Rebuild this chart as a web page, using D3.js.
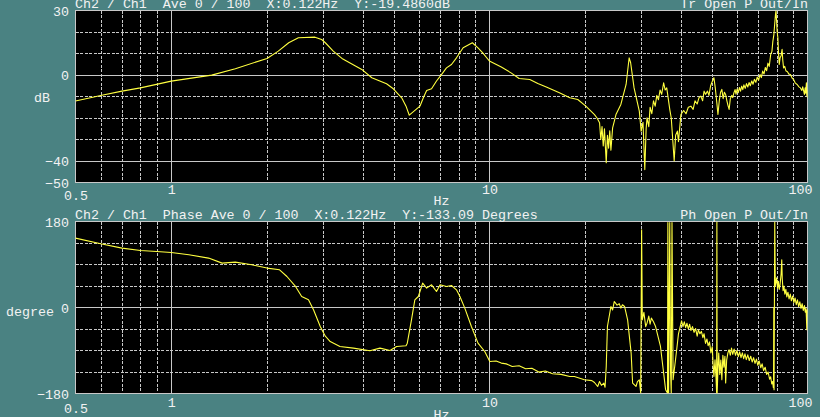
<!DOCTYPE html>
<html>
<head>
<meta charset="utf-8">
<script src="https://cdn.jsdelivr.net/npm/d3@7"></script>
<style>
  html, body { margin: 0; padding: 0; background: #4a8282; }
  svg { display: block; }
  text { font-family: "Liberation Mono", "DejaVu Sans Mono", monospace; font-size: 13.3px; fill: #f2f2f2; white-space: pre; }
</style>
</head>
<body>
<svg id="chart"></svg>
<script>
// frequency axis
var freqTicks = [0.5, 1, 10, 100];
var freqGrid = [0.6, 0.7, 0.8, 0.9, 1, 2, 3, 4, 5, 6, 7, 8, 9, 10, 20, 30, 40, 50, 60, 70, 80, 90];
var freqSolid = [1, 10];

// magnitude panel
var magTicks = [30, 0, -40, -50];
var magGrid = [20, 10, 0, -10, -20, -30, -40];
var magSolid = [0, -40];
var magHeader = "Ch2 / Ch1  Ave 0 / 100  X:0.122Hz  Y:-19.4860dB";
var magTitle = "Tr Open P Out/In";

// phase panel
var phTicks = [180, 0, -180];
var phGrid = [135, 90, 45, 0, -45, -90, -135];
var phSolid = [0];
var phHeader = "Ch2 / Ch1  Phase Ave 0 / 100  X:0.122Hz  Y:-133.09 Degrees";
var phTitle = "Ph Open P Out/In";

// [Hz, dB]
var magPoints = [
  [0.5,-12.1],[0.6,-9.5],[0.7,-7.5],[0.8,-6.0],[1.0,-2.85],[1.34,-0.05],[1.59,2.9],[2.0,7.7],
  [2.17,11.1],[2.34,15.0],[2.51,17.3],[2.83,17.6],[2.97,16.5],[3.05,15.0],[3.23,11.1],[3.44,7.7],
  [3.97,2.6],[4.27,-1.3],[4.75,-4.1],[4.99,-6.4],[5.3,-10.6],[5.47,-14.5],[5.6,-18.7],[6.05,-14.5],
  [6.2,-10.6],[6.35,-7.2],[6.58,-6.4],[6.82,-2.8],[7.07,0.2],[7.33,3.3],[7.6,4.9],[7.88,8.0],
  [8.27,12.65],[8.84,15.0],[9.21,12.65],[9.53,10.3],[10.0,6.5],[10.9,3.7],[11.7,1.0],[12.4,-1.6],
  [13.4,-2.1],[14.2,-4.0],[15.1,-5.6],[16.6,-8.3],[17.9,-10.6],[18.96,-11.4],[20.1,-14.5],[21.4,-18.4],
  [21.8,-20],[22.2,-22.2],[22.4,-30],[22.6,-24],[22.8,-33],[23.0,-25],[23.3,-40.8],[23.5,-28],
  [23.7,-34],[23.9,-26],[24.1,-35],[24.4,-24.6],[25.0,-18.4],[25.9,-13.7],[26.9,-4.4],[27.5,8.0],
  [27.8,5.7],[28.5,-6.0],[29.6,-16.8],[30.0,-26.1],[30.4,-22],[30.8,-44.0],[31.1,-25],[31.3,-19.9],
  [31.7,-24],[32.0,-15],[32.4,-18],[32.8,-12],[33.2,-14.5],[33.6,-9.5],[34.0,-11.5],[34.4,-7],
  [34.8,-9],[35.3,-3.6],[35.7,-7],[36.1,-6],[36.5,-11],[36.9,-16],[37.3,-20],[37.7,-30],
  [38.1,-40],[38.5,-28],[39.0,-26.1],[39.3,-31],[40.0,-18.4],[40.8,-16.5],[41.5,-18],[42.2,-15],
  [43.0,-14.5],[43.7,-16],[44.3,-12],[45.0,-13.5],[45.6,-10.5],[46.2,-9.8],[46.8,-12],[47.3,-7.5],
  [47.8,-9],[48.5,-7.5],[49.0,-9.5],[49.6,-5],[50.2,-3],[50.8,-1.3],[51.3,-6],[51.8,-12],
  [52.3,-18.4],[52.8,-12],[53.3,-8],[53.8,-6.7],[54.3,-11],[54.8,-8],[55.3,-9.1],[55.8,-12],
  [56.2,-14],[56.7,-16.0],[57.2,-11],[57.8,-9.5],[58.2,-10.5],[58.7,-8.3],[59.2,-6.8],[59.6,-8.9],
  [60.1,-6.5],[60.6,-8.2],[61.1,-5.8],[61.6,-7.5],[62.1,-5.2],[62.6,-6.8],[63.1,-4.6],[63.7,-6.2],
  [64.3,-4.0],[64.9,-5.6],[65.5,-3.5],[66.1,-5.0],[66.8,-2.8],[67.4,-4.3],[68.1,-2.0],[68.8,-3.4],
  [69.5,-1.0],[70.2,-2.4],[70.9,0.2],[71.6,-1.2],[72.3,1.8],[73.0,0.5],[73.7,3.5],[74.4,2.0],
  [75.1,5.5],[75.8,4.0],[76.6,9.5],[77.3,11.0],[77.8,15.5],[78.4,18.8],[78.9,24],[79.3,28],
  [79.6,29.9],[79.9,26],[80.3,20],[80.7,17.3],[81.1,10],[81.5,4.9],[82.0,8],[82.6,9],
  [83.2,11.9],[83.6,7],[84.1,3.3],[84.8,4],[85.5,2.0],[86.5,1.5],[87.4,0.4],[88.4,0.2],
  [89.5,-1.5],[90.5,-2.2],[91.6,-3.8],[92.8,-4.4],[94,-5.5],[95,-6.0],[96,-7.2],[96.6,-5.5],
  [97.3,-7.5],[97.8,-9.0],[98.3,-6.0],[98.7,-8.5],[99.2,-3.6],[99.5,-9.5],[99.8,-7],[100,-10.6]
];

// [Hz, degrees]
var phasePoints = [
  [0.5,145.2],[0.6,133.3],[0.7,124.3],[0.8,119.3],[0.9,117.2],[1.0,115.1],[1.136,110.3],[1.31,103.4],
  [1.445,92.9],[1.59,95.0],[1.79,89.4],[2.0,82.5],[2.19,78.9],[2.31,64.9],[2.45,45.4],[2.57,23.0],
  [2.70,16.1],[2.80,-4.8],[2.94,-39.8],[3.05,-60],[3.16,-71.2],[3.39,-81.6],[3.74,-85.0],[4.21,-90.6],
  [4.53,-85.0],[4.87,-90.0],[5.11,-81.6],[5.47,-80.2],[5.52,-74.6],[5.69,-25.8],[5.83,16.1],[5.98,23.0],
  [6.17,51.1],[6.35,40.6],[6.58,47.5],[6.82,33.5],[7.0,47.5],[7.33,44.0],[7.6,46.0],[7.88,37.0],
  [8.08,23.0],[8.37,-1.3],[8.78,-39.8],[9.21,-74.6],[9.67,-92.1],[10.03,-113.0],[10.5,-112],[10.9,-116.4],
  [11.3,-118],[11.8,-123.4],[12.4,-122],[13.0,-128.3],[13.6,-127],[14.3,-135.2],[15.0,-133],[15.8,-138.8],
  [16.8,-140],[17.9,-144.4],[18.5,-144.4],[19.9,-151.3],[21.0,-153],[21.4,-157.0],[21.9,-165.3],[22.2,-154.9],
  [22.5,-163],[22.9,-158.4],[23.1,-167],[23.3,-123.4],[23.5,-39.8],[24.1,2.1],[24.4,-5],[24.7,12.6],
  [25.2,5],[25.6,8],[25.9,-1.3],[26.2,5.7],[26.6,2.1],[27.2,-25.8],[27.9,-95.4],[28.2,-158.2],
  [28.9,-165.3],[29.2,-155],[29.6,-151.3],[29.9,-179],[30.1,162.6],[30.25,-25.8],[30.6,-10],[31.0,-40],
  [31.3,-32.6],[31.7,-18],[32.0,-35],[32.3,-22.2],[32.8,-30],[33.3,-39.8],[34.5,-81.6],[35.2,-130.4],
  [35.8,-172],[36.3,-179],[36.4,178],[36.6,-179],[36.9,178],[37.1,-130],[37.3,-179],[37.5,178],
  [37.8,-151],[38.3,-120],[38.9,-81.6],[39.3,-55],[39.8,-39.8],[40.2,-28],[40.6,-40],[41.0,-30],
  [41.4,-42],[41.8,-33],[42.2,-45],[42.6,-35],[43.0,-48],[43.5,-40],[44.0,-52],[44.5,-44],
  [45.0,-60],[45.4,-47],[45.9,-55],[46.4,-50],[46.9,-63],[47.3,-55],[47.8,-75],[48.3,-66],
  [48.7,-80],[49.2,-72],[49.7,-95],[50.2,-82],[50.5,-120],[50.8,-144.4],[51.2,-109.5],[51.6,-150],
  [51.8,-179],[51.9,179],[52.0,-179],[52.3,-130],[52.6,-95.4],[53.0,-140],[53.4,-110],[53.8,-151],
  [54.2,-100],[54.6,-125],[55.0,-102],[55.3,-158],[55.7,-110],[56.2,-95],[56.7,-88.5],[57.2,-100],
  [57.7,-85],[58.2,-98],[58.8,-87],[59.4,-100],[60.0,-90],[60.6,-103],[61.2,-93],[61.8,-105],
  [62.4,-95],[63.0,-107],[63.6,-97],[64.2,-109],[64.9,-99],[65.6,-111],[66.3,-102],[67.0,-114],
  [67.7,-105],[68.4,-117],[69.1,-108],[69.8,-121],[70.5,-112],[71.3,-126],[72.0,-118],[72.8,-132],
  [73.6,-125],[74.4,-140],[75.2,-135],[76.0,-150],[76.6,-145],[77.2,-160],[77.7,-155],[78.1,-168],
  [78.2,-160],[78.35,0],[78.5,-172],[78.9,179],[79.2,45],[79.5,51],[80.0,62],[80.5,40],
  [81,55],[81.5,38],[82,48],[82.6,70],[83.0,99.9],[83.3,60],[83.8,35],[84.3,45],
  [84.9,28],[85.5,38],[86.1,22],[86.8,32],[87.5,18],[88.3,28],[89,14],[89.8,24],
  [90.6,10],[91.4,20],[92.2,6],[93,16],[93.8,2],[94.6,12],[95.4,-2],[96.2,8],
  [97,-6],[97.8,4],[98.4,-10],[98.9,-2],[99.2,-20],[99.5,-46.7],[99.8,-5],[100,-11.8]
];

var width = 820, height = 417;
var left = 75.5, right = 807.5;
var gridColor = "#c8c8c8";
var traceColor = "#ffff40";

var svg = d3.select("#chart").attr("width", width).attr("height", height);

var x = d3.scaleLog().domain([0.5, 100]).range([left, right]);

function fmt(d) { return d === 0.5 ? "0.5" : String(d); }

function drawPanel(cfg) {
  var y = d3.scaleLinear().domain(cfg.domain).range([cfg.bottom, cfg.top]);
  var g = svg.append("g");

  g.append("rect")
    .attr("x", left).attr("y", cfg.top)
    .attr("width", right - left).attr("height", cfg.bottom - cfg.top)
    .attr("fill", "#000");

  // vertical grid
  g.selectAll(".vgrid")
    .data(freqGrid)
    .enter().append("line")
    .attr("x1", function(d) { return Math.round(x(d)) + 0.5; })
    .attr("x2", function(d) { return Math.round(x(d)) + 0.5; })
    .attr("y1", cfg.top).attr("y2", cfg.bottom)
    .attr("stroke", gridColor)
    .attr("stroke-dasharray", function(d) { return freqSolid.indexOf(d) >= 0 ? null : "3,1.5"; })
    .attr("shape-rendering", "crispEdges");

  // horizontal grid
  g.selectAll(".hgrid")
    .data(cfg.grid)
    .enter().append("line")
    .attr("x1", left).attr("x2", right)
    .attr("y1", function(d) { return Math.round(y(d) - 0.5) + 0.5; })
    .attr("y2", function(d) { return Math.round(y(d) - 0.5) + 0.5; })
    .attr("stroke", gridColor)
    .attr("stroke-dasharray", function(d) { return cfg.solid.indexOf(d) >= 0 ? null : "3,1.5"; })
    .attr("shape-rendering", "crispEdges");

  g.append("rect")
    .attr("x", left).attr("y", cfg.top)
    .attr("width", right - left).attr("height", cfg.bottom - cfg.top)
    .attr("fill", "none").attr("stroke", gridColor)
    .attr("shape-rendering", "crispEdges");

  var clipId = "clip-" + cfg.name;
  svg.append("clipPath").attr("id", clipId)
    .append("rect")
    .attr("x", left).attr("y", cfg.top)
    .attr("width", right - left).attr("height", cfg.bottom - cfg.top);

  var line = d3.line()
    .x(function(d) { return x(d[0]); })
    .y(function(d) { return y(d[1]); });

  g.append("path")
    .datum(cfg.points)
    .attr("clip-path", "url(#" + clipId + ")")
    .attr("d", line)
    .attr("fill", "none")
    .attr("stroke", traceColor)
    .attr("stroke-width", 1.1)
    .attr("stroke-linejoin", "round");

  // y tick labels
  var yAxis = d3.axisLeft(y).tickValues(cfg.ticks).tickSize(0).tickPadding(6.5);
  var ya = g.append("g").attr("transform", "translate(" + left + ",0)").call(yAxis);
  ya.select(".domain").remove();
  ya.selectAll("text")
    .attr("font-family", null).attr("font-size", null).attr("fill", null)
    .attr("dy", "0.36em");

  // x tick labels
  var xAxis = d3.axisBottom(x).tickValues(freqTicks).tickFormat(fmt).tickSize(0);
  var xa = g.append("g").attr("transform", "translate(0," + cfg.bottom + ")").call(xAxis);
  xa.select(".domain").remove();
  xa.selectAll("text")
    .attr("font-family", null).attr("font-size", null).attr("fill", null)
    .attr("dy", null)
    .attr("y", function(d) { return d === 0.5 ? cfg.lowLabel : cfg.tickLabel; })
    .attr("text-anchor", function(d) { return d === 100 ? "end" : "middle"; })
    .attr("x", function(d) { return d === 100 ? 4.5 : 0; });

  g.append("text")
    .attr("x", (left + right) / 2).attr("y", cfg.bottom + cfg.hzLabel)
    .attr("text-anchor", "middle")
    .text("Hz");

  g.append("text")
    .attr("x", cfg.unitX).attr("y", cfg.unitY)
    .text(cfg.unit);

  g.append("text")
    .attr("x", left - 0.5).attr("y", cfg.top - 3)
    .attr("xml:space", "preserve")
    .text(cfg.header);

  g.append("text")
    .attr("x", right + 0.5).attr("y", cfg.top - 3)
    .attr("text-anchor", "end")
    .text(cfg.title);
}

drawPanel({
  name: "mag", top: 10.5, bottom: 182.5, domain: [-50, 30],
  grid: magGrid, solid: magSolid, ticks: magTicks, points: magPoints,
  tickLabel: 11.5, lowLabel: 17.5, hzLabel: 22,
  unit: "dB", unitX: 34, unitY: 101.5,
  header: magHeader, title: magTitle
});

drawPanel({
  name: "ph", top: 221.5, bottom: 393.5, domain: [-180, 180],
  grid: phGrid, solid: phSolid, ticks: phTicks, points: phasePoints,
  tickLabel: 13, lowLabel: 19, hzLabel: 25.5,
  unit: "degree", unitX: 6, unitY: 315.5,
  header: phHeader, title: phTitle
});
</script>
</body>
</html>
